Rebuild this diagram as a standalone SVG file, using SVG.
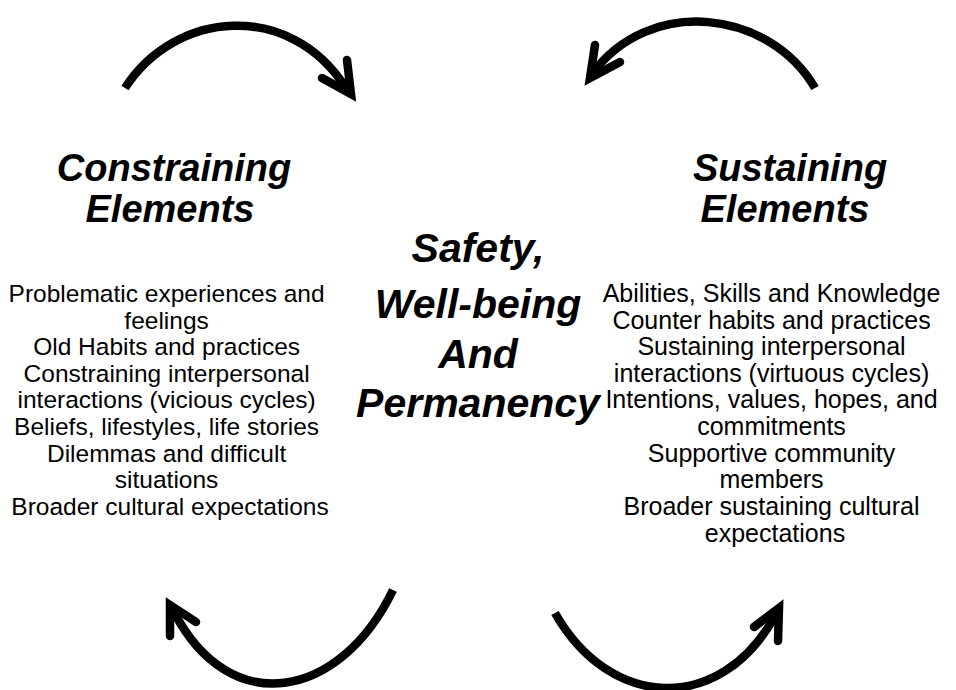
<svg xmlns="http://www.w3.org/2000/svg" width="956" height="690" viewBox="0 0 956 690">
  <style>
    .head { font-family: "Liberation Sans", Arial, sans-serif; font-weight: bold; font-style: italic; font-size: 38px; fill: #000; text-anchor: middle; }
    .core { font-family: "Liberation Sans", Arial, sans-serif; font-weight: bold; font-style: italic; font-size: 41px; fill: #000; text-anchor: middle; }
    .body { font-family: "Liberation Sans", Arial, sans-serif; font-size: 24.5px; fill: #000; text-anchor: middle; }
    .body-r { font-family: "Liberation Sans", Arial, sans-serif; font-size: 25px; fill: #000; text-anchor: middle; }
    .arc { fill: none; stroke: #000; stroke-width: 8.5; stroke-linecap: butt; }
    .head-tip { fill: none; stroke: #000; stroke-width: 8.5; stroke-linecap: round; stroke-linejoin: miter; stroke-miterlimit: 10; }
  </style>
  <rect width="956" height="690" fill="#fff"/>

  <!-- cycle arrows -->
  <g id="connectors">
    <g id="arrow-top-left">
      <path class="arc" d="M125,88 C175,10 290,0 346,88"/>
      <polyline class="head-tip" points="347,60 351,94 322,78"/>
    </g>
    <g id="arrow-top-right">
      <path class="arc" d="M815,88 C770,10 650,-5 592,74"/>
      <polyline class="head-tip" points="620,62 590,78 595,45"/>
    </g>
    <g id="arrow-bottom-left">
      <path class="arc" d="M393,590 C340,700 230,720 174,612"/>
      <polyline class="head-tip" points="170,636 170,605 196,622"/>
    </g>
    <g id="arrow-bottom-right">
      <path class="arc" d="M555,613 C610,710 720,715 775,616"/>
      <polyline class="head-tip" points="754,627 779,608 778,641"/>
    </g>
  </g>

  <!-- left column -->
  <g id="constraining">
    <text class="head" x="174" y="181">Constraining</text>
    <text class="head" x="170" y="222">Elements</text>
    <text class="body" x="170">
      <tspan x="170" y="302">Problematic experiences and</tspan>
      <tspan x="170" y="329">feelings</tspan>
      <tspan x="170" y="355">Old Habits and practices</tspan>
      <tspan x="170" y="382">Constraining interpersonal</tspan>
      <tspan x="170" y="408">interactions (vicious cycles)</tspan>
      <tspan x="170" y="435">Beliefs, lifestyles, life stories</tspan>
      <tspan x="170" y="462">Dilemmas and difficult</tspan>
      <tspan x="170" y="488">situations</tspan>
      <tspan x="170" y="515">Broader cultural expectations</tspan>
    </text>
  </g>

  <!-- centre -->
  <g id="safety">
    <text class="core" x="478" y="262">Safety,</text>
    <text class="core" x="478" y="318">Well-being</text>
    <text class="core" x="478" y="368">And</text>
    <text class="core" x="478" y="417">Permanency</text>
  </g>

  <!-- right column -->
  <g id="sustaining">
    <text class="head" x="790" y="181">Sustaining</text>
    <text class="head" x="785" y="222">Elements</text>
    <text class="body-r" x="775">
      <tspan x="775" y="302">Abilities, Skills and Knowledge</tspan>
      <tspan x="775" y="329">Counter habits and practices</tspan>
      <tspan x="775" y="355">Sustaining interpersonal</tspan>
      <tspan x="775" y="382">interactions (virtuous cycles)</tspan>
      <tspan x="775" y="408">Intentions, values, hopes, and</tspan>
      <tspan x="775" y="435">commitments</tspan>
      <tspan x="775" y="462">Supportive community</tspan>
      <tspan x="775" y="488">members</tspan>
      <tspan x="775" y="515">Broader sustaining cultural</tspan>
      <tspan x="775" y="542">expectations</tspan>
    </text>
  </g>
</svg>
